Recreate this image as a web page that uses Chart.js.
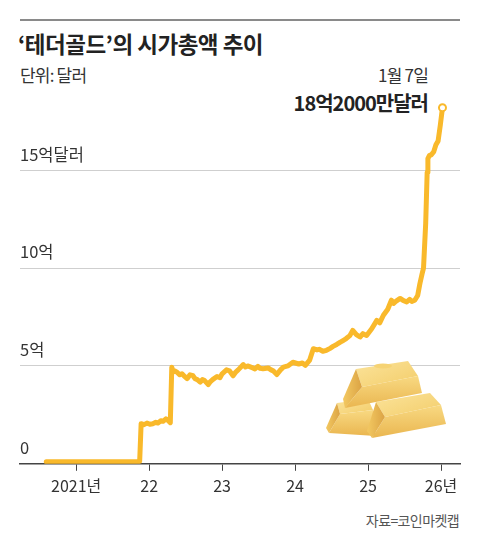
<!DOCTYPE html>
<html>
<head>
<meta charset="utf-8">
<script src="https://cdn.jsdelivr.net/npm/chart.js@4.4.1/dist/chart.umd.min.js"></script>
<style>
  body { margin: 0; background: #fff; font-family: "Noto Sans CJK KR", sans-serif; }
  #wrap { position: relative; width: 480px; height: 550px; overflow: hidden; }
  #wrap canvas { position: absolute; left: 0; top: 0; }
  .txt { position: absolute; color: #222; white-space: nowrap; line-height: 1; }
  #rule { position: absolute; left: 20px; top: 19px; width: 440px; height: 2px; background: #8a8a8a; }
  #title { left: 18px; top: 32px; font-size: 22.5px; font-weight: 700; letter-spacing: -0.5px; }
  #unit { left: 20px; top: 66px; font-size: 17px; color: #333; letter-spacing: -0.8px; }
  #date { right: 52px; top: 66px; font-size: 17px; color: #333; letter-spacing: -0.8px; }
  #last { right: 52px; top: 93px; font-size: 20px; font-weight: 700; letter-spacing: -1px; }
  #src { right: 21px; top: 513px; font-size: 14px; color: #555; letter-spacing: -0.6px; }
  #bars { position: absolute; left: 320px; top: 355px; }
</style>
</head>
<body>
<div id="wrap">
  <div id="rule"></div>
  <div class="txt" id="title">‘테더골드’의 시가총액 추이</div>
  <div class="txt" id="unit">단위: 달러</div>
  <div class="txt" id="date">1월 7일</div>
  <div class="txt" id="last">18억2000만달러</div>
  <div class="txt" id="src">자료=코인마켓캡</div>
  <canvas id="chart"></canvas>
  <svg id="bars" width="130" height="90" viewBox="320 355 130 90">
    <defs>
      <linearGradient id="gTop" x1="0" y1="0" x2="1" y2="1">
        <stop offset="0" stop-color="#fbe39a"/><stop offset="1" stop-color="#f3cd6a"/>
      </linearGradient>
      <linearGradient id="gFront" x1="0" y1="0" x2="0" y2="1">
        <stop offset="0" stop-color="#f8d982"/><stop offset="1" stop-color="#eab650"/>
      </linearGradient>
      <linearGradient id="gEnd" x1="0" y1="0" x2="1" y2="0">
        <stop offset="0" stop-color="#f3c962"/><stop offset="1" stop-color="#dba344"/>
      </linearGradient>
    </defs>
    <!-- bottom left bar -->
    <polygon points="337,403 368,399 373,410 340,414" fill="url(#gTop)"/>
    <polygon points="340,414 373,410 376,436 329,433" fill="url(#gFront)"/>
    <polygon points="337,403 340,414 329,433 326,428" fill="url(#gEnd)"/>
    <!-- bottom right bar -->
    <polygon points="376,402 430,393 441,405 385,417" fill="url(#gTop)"/>
    <polygon points="385,417 441,405 446,424 372,438" fill="url(#gFront)"/>
    <polygon points="376,402 385,417 372,438 367,431" fill="url(#gEnd)"/>
    <!-- top bar -->
    <polygon points="356,369 408,361 418,376 362,387" fill="url(#gTop)"/>
    <polygon points="362,387 418,376 422,393 345,408" fill="url(#gFront)"/>
    <polygon points="356,369 362,387 345,408 343,399" fill="url(#gEnd)"/>
    <ellipse cx="383" cy="366" rx="9" ry="2.5" fill="#f6d374"/>
  </svg>
</div>
<script>
// Tether Gold market cap, 억 달러 (x in decimal years)
const years = [
  2020.59, 2020.9, 2021.3, 2021.6, 2021.87,
  2021.89, 2021.93, 2021.97, 2022.01, 2022.05, 2022.09, 2022.12, 2022.16, 2022.19, 2022.23, 2022.25, 2022.29,
  2022.31, 2022.33, 2022.35, 2022.38, 2022.42, 2022.45, 2022.49, 2022.52, 2022.56, 2022.60, 2022.63, 2022.66, 2022.70, 2022.73, 2022.76, 2022.81, 2022.84, 2022.87, 2022.93,
  2022.97, 2023.00, 2023.06, 2023.10, 2023.15, 2023.19, 2023.22, 2023.29, 2023.32, 2023.35, 2023.42, 2023.45, 2023.49, 2023.52, 2023.56, 2023.63, 2023.67, 2023.70, 2023.75, 2023.80, 2023.84, 2023.90, 2023.97,
  2024.05, 2024.10, 2024.14, 2024.20, 2024.25, 2024.30, 2024.33, 2024.38, 2024.43, 2024.48, 2024.52, 2024.57, 2024.62, 2024.66, 2024.70, 2024.75, 2024.79, 2024.84, 2024.89, 2024.93, 2024.98,
  2025.05, 2025.12, 2025.16, 2025.21, 2025.27, 2025.32, 2025.35, 2025.38, 2025.44, 2025.48, 2025.53, 2025.57, 2025.60, 2025.64, 2025.68,
  2025.71, 2025.74, 2025.76, 2025.79, 2025.81, 2025.82, 2025.84, 2025.87, 2025.90, 2025.93, 2025.96, 2025.99, 2026.02
];
const capValues = [
  0.1, 0.1, 0.1, 0.1, 0.12,
  2.05, 2.0, 2.08, 2.02, 2.05, 2.12, 2.08, 2.2, 2.17, 2.3, 2.25, 2.1,
  4.93, 4.7, 4.75, 4.68, 4.55, 4.6, 4.45, 4.35, 4.55, 4.5, 4.35, 4.3, 4.17, 4.3, 4.25, 4.05, 4.2, 4.3, 4.46,
  4.4, 4.6, 4.8, 4.75, 4.5, 4.7, 4.8, 5.07, 4.95, 5.0, 4.9, 4.85, 4.98, 4.88, 4.86, 4.9, 4.8, 4.75, 4.56, 4.8, 4.94, 5.0, 5.19,
  5.1, 5.15, 5.03, 5.3, 5.88, 5.82, 5.85, 5.75, 5.8, 5.9, 6.0, 6.1, 6.22, 6.3, 6.4, 6.55, 6.82, 6.6, 6.48, 6.65, 6.56,
  6.9, 7.33, 7.2, 7.59, 7.9, 8.36, 8.2, 8.3, 8.45, 8.35, 8.27, 8.4, 8.3, 8.36, 8.6,
  9.2, 9.7, 10.0, 12.3, 14.9, 15.6, 15.75, 15.8, 15.95, 16.3, 16.5, 17.3, 18.2
];
const yearTicks = [2021, 2022, 2023, 2024, 2025, 2026];
const yearLabels = ["2021년", "22", "23", "24", "25", "26년"];
const valueTicks = [0, 5, 10, 15];
const valueLabels = ["0", "5억", "10억", "15억달러"];

const gold = "#f9b92b";
const points = years.map((x, i) => ({ x: x, y: capValues[i] }));
const lastIdx = points.length - 1;

new Chart(document.getElementById("chart"), {
  type: "line",
  data: {
    datasets: [{
      data: points,
      borderColor: gold,
      borderWidth: 5,
      borderJoinStyle: "round",
      borderCapStyle: "round",
      tension: 0,
      pointRadius: ctx => ctx.dataIndex === lastIdx ? 3.5 : 0,
      pointBackgroundColor: "#fff",
      pointBorderColor: gold,
      pointBorderWidth: 2
    }]
  },
  options: {
    responsive: true,
    maintainAspectRatio: false,
    animation: false,
    layout: { padding: { left: 20, right: 20, top: 92, bottom: 48 } },
    plugins: { legend: { display: false }, tooltip: { enabled: false } },
    scales: {
      x: {
        type: "linear",
        min: 2020.23,
        max: 2026.26,
        afterBuildTicks: axis => { axis.ticks = yearTicks.map(v => ({ value: v })); },
        ticks: {
          autoSkip: false,
          maxRotation: 0,
          padding: 6,
          color: "#333",
          font: { family: "Noto Sans CJK KR", size: 16 },
          callback: (v) => yearLabels[yearTicks.indexOf(v)]
        },
        grid: { drawOnChartArea: false, drawTicks: true, tickLength: 7, color: "#444", lineWidth: 1 },
        border: { display: true, color: "#444", width: 1.5 }
      },
      y: {
        min: 0,
        max: 19,
        afterBuildTicks: axis => { axis.ticks = valueTicks.map(v => ({ value: v })); },
        ticks: {
          mirror: true,
          padding: 0,
          labelOffset: -16,
          color: "#333",
          font: { family: "Noto Sans CJK KR", size: 16.5 },
          callback: (v) => valueLabels[valueTicks.indexOf(v)]
        },
        grid: { drawTicks: false, color: ctx => ctx.tick.value === 0 ? "rgba(0,0,0,0)" : "#cfcfcf", lineWidth: 1 },
        border: { display: false }
      }
    }
  }
});
</script>
</body>
</html>
